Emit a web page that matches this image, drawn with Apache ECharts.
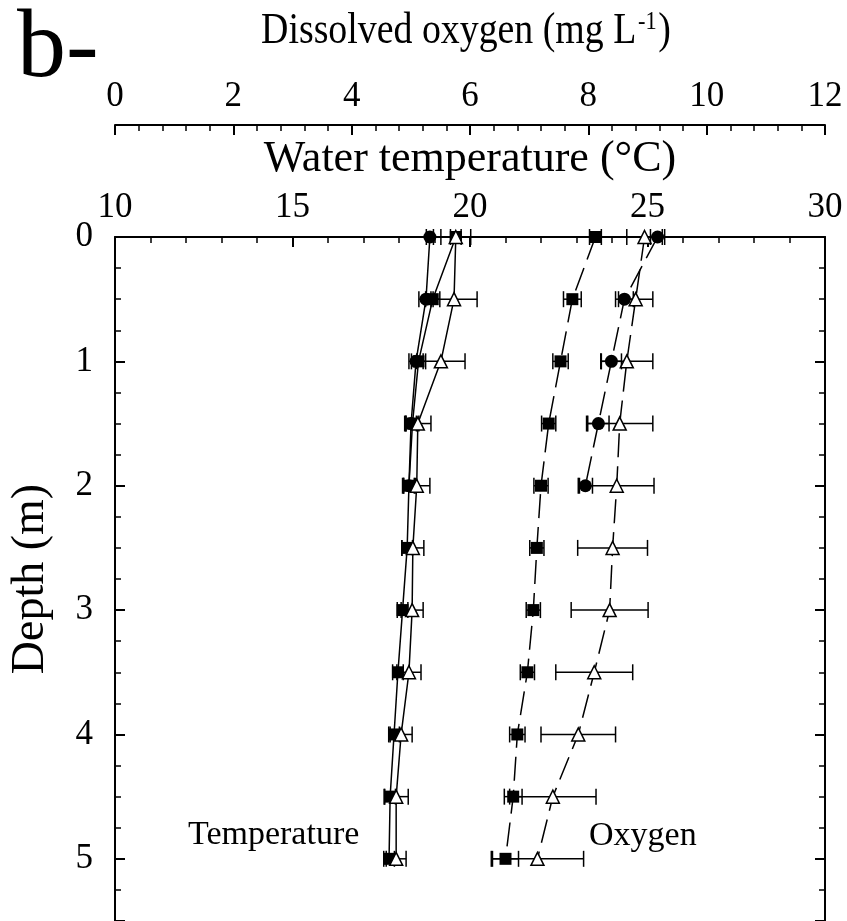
<!DOCTYPE html>
<html>
<head>
<meta charset="utf-8">
<script src="https://cdn.jsdelivr.net/npm/echarts@6/dist/echarts.min.js"></script>
<style>
  html, body { margin: 0; padding: 0; background: #fff; }
  #chart { width: 847px; height: 921px; }
</style>
</head>
<body>
<div id="chart"></div>
<script>
// Depth profiles of water temperature and dissolved oxygen (mean ± error)
const FONT = 'Liberation Serif';

const depths = [0, 0.5, 1, 1.5, 2, 2.5, 3, 3.5, 4, 4.5, 5];
const depthsShallow = [0, 0.5, 1, 1.5, 2];

// Water temperature (°C)
const tempSquare      = [19.6, 18.95, 18.55, 18.38, 18.28, 18.23, 18.1, 17.97, 17.86, 17.75, 17.72];
const tempSquareErr   = [0.15, 0.2, 0.2, 0.18, 0.18, 0.15, 0.15, 0.15, 0.15, 0.15, 0.15];
const tempCircle      = [18.87, 18.76, 18.48, 18.34, 18.28];
const tempCircleErr   = [0.1, 0.2, 0.2, 0.15, 0.15];
const tempTriangle    = [19.6, 19.55, 19.18, 18.53, 18.5, 18.39, 18.37, 18.28, 18.06, 17.92, 17.92];
const tempTriangleErr = [0.42, 0.65, 0.68, 0.37, 0.37, 0.31, 0.31, 0.34, 0.31, 0.34, 0.28];

// Dissolved oxygen (mg L-1)
const oxySquare      = [8.12, 7.73, 7.53, 7.33, 7.2, 7.13, 7.07, 6.97, 6.8, 6.73, 6.6];
const oxySquareErr   = [0.1, 0.15, 0.13, 0.12, 0.12, 0.12, 0.12, 0.12, 0.13, 0.15, 0.22];
const oxyCircle      = [9.17, 8.61, 8.39, 8.17, 7.95];
const oxyCircleErr   = [0.12, 0.15, 0.17, 0.18, 0.12];
const oxyTriangle    = [8.95, 8.8, 8.65, 8.53, 8.48, 8.41, 8.36, 8.1, 7.83, 7.4, 7.14];
const oxyTriangleErr = [0.3, 0.29, 0.44, 0.56, 0.63, 0.59, 0.65, 0.65, 0.63, 0.73, 0.78];

const tempTicks = [10, 15, 20, 25, 30];
const oxyTicks = [0, 2, 4, 6, 8, 10, 12];
const depthTicks = [0, 1, 2, 3, 4, 5];

const pairs = (vals, ds) => vals.map((v, i) => [v, ds[i]]);

// Horizontal error bars with end caps
function errorBars(vals, errs, ds, axisIndex) {
  return {
    type: 'custom',
    xAxisIndex: axisIndex,
    yAxisIndex: 0,
    silent: true,
    z: 1,
    data: vals.map((v, i) => [v - errs[i], v + errs[i], ds[i]]),
    encode: { x: [0, 1], y: 2 },
    renderItem: (params, api) => {
      const lo = api.coord([api.value(0), api.value(2)]);
      const hi = api.coord([api.value(1), api.value(2)]);
      const h = 8;
      const st = { stroke: '#000', lineWidth: 1.5 };
      return {
        type: 'group',
        children: [
          { type: 'line', shape: { x1: lo[0], y1: lo[1], x2: hi[0], y2: hi[1] }, style: st },
          { type: 'line', shape: { x1: lo[0], y1: lo[1] - h, x2: lo[0], y2: lo[1] + h }, style: st },
          { type: 'line', shape: { x1: hi[0], y1: hi[1] - h, x2: hi[0], y2: hi[1] + h }, style: st }
        ]
      };
    }
  };
}

function profile(vals, ds, axisIndex, marker, dashed) {
  const hollow = marker === 'triangle';
  return {
    type: 'line',
    xAxisIndex: axisIndex,
    yAxisIndex: 0,
    data: pairs(vals, ds),
    symbol: marker,
    symbolSize: marker === 'rect' ? 12 : 13,
    showAllSymbol: true,
    silent: true,
    z: 3,
    itemStyle: hollow
      ? { color: '#fff', borderColor: '#000', borderWidth: 1.5 }
      : { color: '#000' },
    lineStyle: { color: '#000', width: 1.5, type: dashed ? [24, 9] : 'solid' }
  };
}

const axisLineStyle = { color: '#000', width: 2 };
const labelStyle = { fontFamily: FONT, fontSize: 35, color: '#000' };

const chart = echarts.init(document.getElementById('chart'), null, { renderer: 'canvas' });
chart.setOption({
  animation: false,
  backgroundColor: '#fff',
  grid: { left: 115, top: 237, width: 710, height: 689, containLabel: false },
  xAxis: [
    {
      type: 'value', position: 'top', min: 10, max: 30, interval: 5,
      name: 'Water temperature (°C)', nameLocation: 'middle', nameGap: 56,
      nameTextStyle: { fontFamily: FONT, fontSize: 44, color: '#000' },
      axisLine: { onZero: false, lineStyle: axisLineStyle },
      axisTick: { inside: true, length: 10, lineStyle: { color: '#000', width: 2 } },
      minorTick: { show: true, splitNumber: 5, length: 6, lineStyle: { color: '#000', width: 1.5 } },
      splitLine: { show: false },
      axisLabel: Object.assign({ margin: 12, formatter: v => tempTicks.includes(v) ? String(v) : '' }, labelStyle)
    },
    {
      type: 'value', position: 'top', offset: 112, min: 0, max: 12, interval: 2,
      axisLine: { onZero: false, lineStyle: axisLineStyle },
      axisTick: { inside: true, length: 10, lineStyle: { color: '#000', width: 2 } },
      minorTick: { show: true, splitNumber: 5, length: 6, lineStyle: { color: '#000', width: 1.5 } },
      splitLine: { show: false },
      axisLabel: Object.assign({ margin: 11, formatter: v => oxyTicks.includes(v) ? String(v) : '' }, labelStyle)
    }
  ],
  yAxis: [
    {
      type: 'value', position: 'left', inverse: true, min: 0, max: 5.5, interval: 1,
      name: 'Depth (m)', nameLocation: 'middle', nameGap: 61, nameRotate: 90,
      nameTextStyle: { fontFamily: FONT, fontSize: 46, color: '#000' },
      axisLine: { onZero: false, lineStyle: axisLineStyle },
      axisTick: { inside: true, length: 10, lineStyle: { color: '#000', width: 2 } },
      minorTick: { show: true, splitNumber: 4, length: 6, lineStyle: { color: '#000', width: 1.5 } },
      splitLine: { show: false },
      axisLabel: Object.assign({ margin: 22, formatter: v => depthTicks.includes(v) ? String(v) : '' }, labelStyle)
    },
    {
      type: 'value', position: 'right', inverse: true, min: 0, max: 5.5, interval: 1,
      axisLine: { onZero: false, lineStyle: axisLineStyle },
      axisTick: { inside: true, length: 10, lineStyle: { color: '#000', width: 2 } },
      minorTick: { show: true, splitNumber: 4, length: 6, lineStyle: { color: '#000', width: 1.5 } },
      splitLine: { show: false },
      axisLabel: { show: false }
    }
  ],
  graphic: [
    { type: 'text', x: 17, y: 50, style: { text: 'b-', font: '98px "' + FONT + '"', fill: '#000', align: 'left', verticalAlign: 'middle' } },
    // upper axis title, set in a narrow type and centred over the plot
    {
      type: 'text', x: 466, y: 31, scaleX: 0.86,
      style: {
        text: 'Dissolved oxygen (mg L{sup|-1})',
        font: '44px "' + FONT + '"', fill: '#000', align: 'center', verticalAlign: 'middle',
        rich: { sup: { fontFamily: FONT, fontSize: 26, fill: '#000', verticalAlign: 'top', padding: [0, 2, 15, 2] } }
      }
    },
    { type: 'text', x: 188, y: 835, style: { text: 'Temperature', font: '34px "' + FONT + '"', fill: '#000', align: 'left', verticalAlign: 'middle' } },
    { type: 'text', x: 589, y: 836, style: { text: 'Oxygen', font: '34px "' + FONT + '"', fill: '#000', align: 'left', verticalAlign: 'middle' } }
  ],
  series: [
    errorBars(tempSquare, tempSquareErr, depths, 0),
    errorBars(tempCircle, tempCircleErr, depthsShallow, 0),
    errorBars(tempTriangle, tempTriangleErr, depths, 0),
    errorBars(oxySquare, oxySquareErr, depths, 1),
    errorBars(oxyCircle, oxyCircleErr, depthsShallow, 1),
    errorBars(oxyTriangle, oxyTriangleErr, depths, 1),
    profile(tempSquare, depths, 0, 'rect', false),
    profile(tempCircle, depthsShallow, 0, 'circle', false),
    profile(tempTriangle, depths, 0, 'triangle', false),
    profile(oxySquare, depths, 1, 'rect', true),
    profile(oxyCircle, depthsShallow, 1, 'circle', true),
    profile(oxyTriangle, depths, 1, 'triangle', true)
  ]
});
</script>
</body>
</html>
